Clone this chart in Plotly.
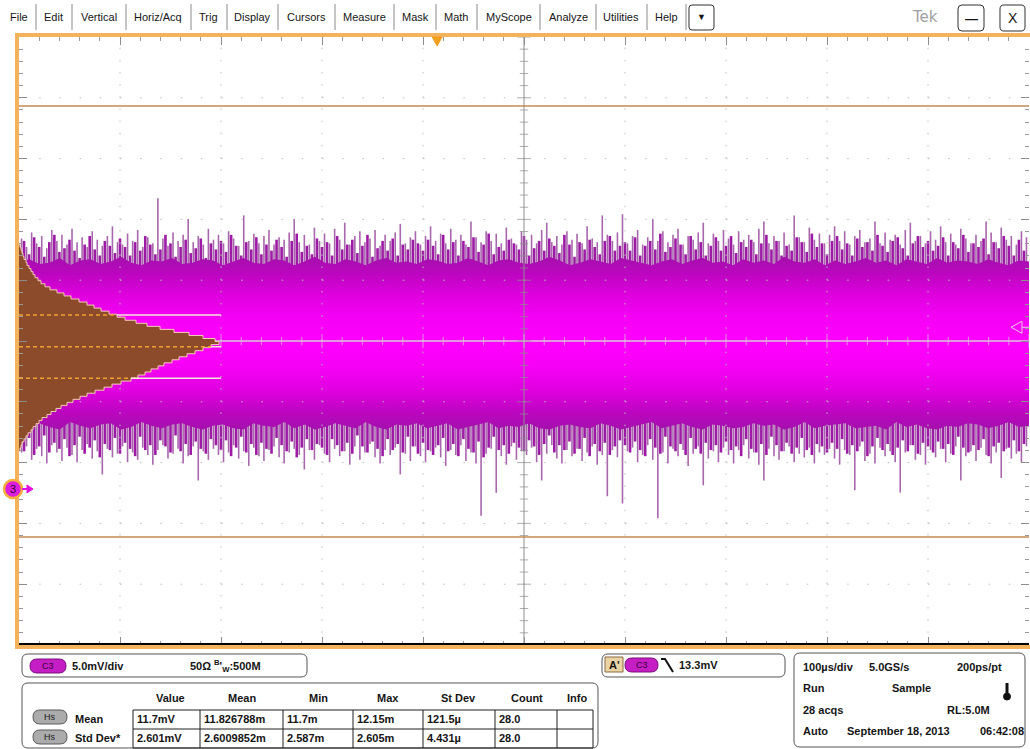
import numpy as np
import plotly.graph_objects as go

W, H = 1030, 749
def px(x): return x / W
def py(y): return 1 - y / H

# ---------------- data ----------------
# waveform: tallest strokes, 200 columns over 10 divisions (mV)
spike_hi = [
    20.6, 19.9, 21.1, 20.2, 20.8, 19.8, 21.3, 20.4, 20.9, 20.1, 21.4, 20.3, 20.7, 19.9, 21.2, 20.5, 20.0, 20.8, 21.6, 20.3,
    20.1, 21.0, 20.4, 21.3, 19.9, 20.7, 20.2, 23.9, 20.6, 20.0, 21.1, 20.4, 20.9, 22.2, 20.3, 20.8, 20.1, 21.4, 20.5, 20.9,
    20.2, 21.2, 20.6, 20.0, 22.5, 20.4, 21.0, 20.2, 20.8, 21.3, 20.1, 20.7, 20.5, 21.1, 22.2, 20.3, 20.9, 20.1, 21.5, 20.4,
    21.0, 20.2, 21.4, 20.5, 21.9, 20.1, 20.8, 21.2, 20.3, 20.6, 21.3, 20.0, 20.9, 20.4, 21.1, 21.8, 20.2, 20.7, 21.2, 20.1,
    20.8, 21.6, 20.4, 21.0, 20.2, 21.4, 20.5, 20.9, 20.1, 22.0, 20.7, 20.3, 21.2, 20.4, 21.0, 20.2, 21.5, 20.6, 20.1, 21.2,
    20.5, 20.9, 20.2, 21.3, 21.9, 20.3, 20.8, 20.1, 21.2, 20.5, 21.0, 20.2, 21.6, 20.6, 20.3, 22.5, 20.9, 20.4, 21.1, 22.6,
    20.2, 20.8, 21.3, 20.1, 20.7, 22.2, 20.4, 21.2, 20.3, 20.9, 21.4, 20.1, 20.8, 20.5, 21.1, 21.9, 20.2, 21.0, 20.4, 21.3,
    20.6, 20.1, 21.2, 20.5, 20.9, 20.3, 21.4, 22.0, 20.2, 20.8, 20.4, 21.1, 20.1, 22.5, 20.7, 20.3, 21.5, 20.5, 21.0, 20.2,
    20.9, 21.6, 20.4, 21.2, 20.1, 20.8, 21.3, 20.3, 20.6, 22.0, 20.2, 21.1, 20.5, 20.9, 20.1, 21.3, 21.9, 20.4, 20.8, 20.2,
    21.2, 20.5, 21.6, 20.3, 21.0, 20.1, 21.4, 20.6, 20.2, 20.9, 20.4, 22.0, 21.1, 20.3, 21.5, 20.5, 20.8, 20.1, 21.2, 20.7,
]
spike_lo = [
    3.0, 3.5, 2.4, 3.3, 2.7, 2.1, 3.6, 3.0, 2.3, 3.4, 2.8, 2.2, 3.2, 3.7, 2.5, 3.1, 1.2, 3.3, 2.6, 2.9,
    3.5, 2.2, 3.0, 2.4, 3.4, 2.8, 2.0, 3.2, 3.6, 2.5, 2.9, 3.3, 2.1, 2.7, 3.5, 0.7, 3.1, 2.4, 3.3, 2.8,
    2.2, 3.0, 3.6, 2.5, 3.1, 1.9, 3.4, 2.7, 2.3, 3.2, 3.5, 2.6, 2.1, 3.0, 3.3, 2.8, 1.6, 3.2, 2.4, 3.6,
    2.9, 2.2, 3.3, 2.7, 3.1, 2.0, 3.5, 2.4, 3.0, 3.7, 2.6, 2.1, 3.2, 2.8, 3.4, 1.2, 2.9, 2.3, 3.5, 2.7,
    2.2, 3.1, 3.4, 2.6, 1.9, 3.2, 2.8, 3.6, 2.3, 3.0, 2.1, -2.2, 2.9, 3.3, -0.3, 2.7, 2.0, 3.5, 2.4, 3.1,
    2.8, 3.4, 2.2, 0.7, 2.9, 3.6, 2.5, 2.1, 3.2, 2.7, 3.3, 2.3, 3.0, 3.5, 2.0, 2.8, -0.6, 3.2, 2.6, -1.2,
    3.1, 3.4, 2.2, 2.8, 3.6, 2.4, -2.4, 3.0, 2.1, 3.3, 2.7, 3.2, 1.9, 2.9, 3.5, 0.3, 2.5, 3.1, 2.2, 3.4,
    2.8, 2.1, 3.2, 3.6, 2.5, 3.0, 2.0, 0.7, 3.3, 2.7, 2.4, 3.1, 3.5, 2.2, 2.9, 2.6, 3.4, 2.1, 3.0, 2.8,
    3.3, 2.5, 2.0, 3.2, 2.8, -0.1, 3.5, 2.3, 2.9, 2.1, 3.4, 2.7, 3.1, 2.2, -0.3, 3.0, 3.6, 2.4, 2.8, 2.0,
    3.2, 2.6, 3.3, 2.2, 2.9, 3.5, 0.7, 2.7, 3.1, 2.3, 3.4, 2.8, 2.1, 3.0, 0.9, 3.3, 2.5, 2.9, 2.2, 3.5,
]
# dense fringe strokes, interleaved between the columns above (mV)
fringe_hi = [
    19.8, 20.4, 19.3, 20.7, 19.9, 19.1, 20.3, 20.9, 19.5, 19.8, 20.5, 19.6, 19.0, 20.1, 20.8, 19.7, 19.2, 20.4, 20.0, 19.4,
    20.6, 19.9, 19.2, 20.3, 19.6, 20.8, 20.1, 19.3, 19.7, 20.9, 20.2, 19.1, 19.9, 20.5, 19.4, 19.8, 20.6, 19.0, 20.2, 19.7,
    20.4, 19.5, 20.9, 20.0, 19.2, 20.3, 19.7, 20.7, 19.3, 20.1, 19.6, 20.5, 19.9, 19.1, 20.4, 21.0, 19.5, 20.0, 19.3, 20.6,
    19.9, 20.3, 19.2, 20.8, 19.7, 20.1, 20.5, 19.4, 20.0, 20.9, 19.1, 19.8, 20.4, 19.6, 20.6, 19.2, 20.1, 19.7, 20.5, 20.2,
    19.6, 20.5, 20.0, 19.3, 20.9, 19.7, 20.3, 19.2, 20.4, 19.9, 20.7, 19.5, 20.1, 21.0, 19.3, 19.9, 19.6, 20.5, 20.2, 19.7,
    20.8, 19.2, 19.8, 20.4, 19.6, 20.6, 20.0, 19.4, 20.9, 20.1, 19.1, 20.3, 19.7, 20.5, 19.9, 19.3, 20.4, 20.8, 19.6, 20.0,
    20.3, 19.6, 20.7, 19.2, 20.0, 20.4, 19.7, 21.0, 19.5, 19.9, 20.6, 20.1, 19.3, 20.8, 19.7, 20.3, 19.2, 20.0, 20.7, 19.6,
    20.0, 20.8, 19.4, 20.3, 19.9, 20.5, 19.3, 20.2, 20.9, 19.7, 20.4, 19.2, 20.0, 19.6, 20.7, 20.3, 19.5, 21.0, 19.9, 20.2,
    19.3, 20.4, 20.8, 19.7, 20.2, 19.2, 20.6, 19.9, 20.3, 19.6, 20.9, 20.0, 19.5, 20.4, 20.7, 19.8, 19.2, 20.2, 20.8, 19.9,
    20.4, 19.6, 20.0, 20.7, 19.2, 20.3, 19.8, 20.9, 19.5, 20.2, 19.9, 20.6, 19.3, 20.3, 19.8, 20.8, 20.0, 19.2, 20.5, 19.6,
]
fringe_lo = [
    3.7, 3.1, 4.2, 2.8, 3.5, 4.4, 3.0, 3.8, 3.3, 4.1, 2.7, 3.6, 4.3, 2.9, 3.4, 4.0, 2.6, 3.7, 3.2, 4.2,
    2.9, 3.8, 3.3, 2.7, 4.3, 3.2, 3.6, 2.8, 4.0, 3.5, 3.0, 4.4, 3.1, 3.7, 2.8, 3.9, 3.3, 2.9, 4.1, 3.6,
    3.2, 4.0, 2.7, 3.4, 4.3, 3.0, 3.7, 2.8, 3.8, 3.3, 2.9, 4.2, 3.6, 3.1, 3.9, 2.6, 3.4, 4.1, 3.2, 3.7,
    3.4, 2.8, 4.1, 3.6, 3.1, 3.8, 2.9, 4.4, 3.5, 3.0, 3.9, 3.3, 2.7, 4.1, 3.2, 3.7, 3.0, 4.3, 3.5, 2.9,
    3.8, 3.2, 2.8, 3.6, 4.2, 3.1, 3.7, 2.7, 4.1, 3.3, 3.0, 3.9, 2.6, 3.4, 4.3, 3.2, 3.6, 2.9, 3.8, 3.4,
    3.1, 4.0, 3.5, 2.8, 3.7, 4.4, 3.0, 3.6, 3.2, 3.9, 2.9, 3.3, 4.2, 2.7, 3.7, 3.1, 3.8, 2.8, 3.5, 4.0,
    3.6, 3.0, 3.9, 3.2, 2.7, 4.1, 3.4, 2.9, 4.3, 3.5, 3.1, 3.7, 2.8, 4.2, 3.3, 2.9, 3.8, 3.2, 3.6, 3.0,
    3.9, 3.2, 3.5, 2.7, 4.1, 3.3, 3.0, 3.7, 2.8, 4.3, 3.6, 3.1, 3.8, 2.9, 3.4, 4.2, 3.2, 2.8, 3.7, 3.5,
    3.0, 3.8, 3.3, 4.1, 2.9, 3.6, 3.1, 3.9, 2.7, 3.5, 4.2, 3.2, 3.7, 2.8, 3.4, 4.0, 3.1, 3.6, 2.9, 3.8,
    3.5, 3.0, 3.9, 3.3, 3.7, 2.8, 4.3, 3.4, 3.0, 3.6, 3.2, 4.1, 2.7, 3.5, 3.8, 3.1, 3.4, 4.0, 3.1, 3.7,
]
# dense body edges (100 points across the record), mV
body_hi = [
    18.7, 18.9, 18.5, 18.6, 19.0, 18.4, 18.8, 18.9, 18.5, 18.7,
    19.1, 18.6, 18.4, 18.8, 18.7, 19.0, 18.5, 18.6, 18.9, 18.8,
    18.4, 18.7, 19.0, 18.6, 18.5, 18.9, 18.8, 18.4, 18.7, 19.1,
    18.6, 18.5, 18.9, 18.7, 18.4, 18.8, 19.0, 18.6, 18.7, 18.5,
    18.9, 18.8, 18.5, 18.6, 19.0, 18.7, 18.4, 18.8, 18.9, 18.6,
    18.5, 18.7, 19.1, 18.8, 18.4, 18.6, 18.9, 18.7, 18.5, 19.0,
    18.8, 18.6, 18.4, 18.7, 18.9, 18.5, 18.8, 19.0, 18.6, 18.7,
    18.4, 18.9, 18.6, 18.8, 18.5, 19.1, 18.7, 18.6, 18.9, 18.4,
    18.8, 18.5, 18.7, 19.0, 18.6, 18.8, 18.4, 18.9, 18.7, 18.5,
    19.0, 18.6, 18.8, 18.7, 18.5, 18.9, 18.6, 18.4, 18.8, 18.7,
]
body_lo = [
    5.2, 5.0, 5.4, 5.1, 4.9, 5.5, 5.2, 5.0, 5.3, 5.4,
    4.9, 5.1, 5.5, 5.2, 5.0, 5.3, 5.4, 5.1, 4.9, 5.2,
    5.3, 5.0, 4.9, 5.4, 5.2, 5.1, 5.5, 5.0, 5.3, 4.9,
    5.1, 5.4, 5.2, 5.0, 5.5, 5.1, 4.9, 5.3, 5.2, 5.4,
    5.0, 5.2, 5.4, 4.9, 5.1, 5.3, 5.5, 5.0, 5.2, 5.1,
    5.4, 5.0, 4.9, 5.2, 5.3, 5.1, 5.0, 5.4, 5.2, 4.9,
    5.1, 5.3, 5.5, 5.0, 5.2, 5.4, 5.1, 4.9, 5.3, 5.2,
    5.0, 5.1, 5.4, 5.2, 5.3, 4.9, 5.1, 5.5, 5.0, 5.2,
    5.3, 5.4, 5.0, 5.1, 5.2, 4.9, 5.5, 5.1, 5.3, 5.0,
    4.9, 5.2, 5.1, 5.4, 5.3, 5.0, 5.2, 5.5, 5.1, 5.2,
]
# vertical histogram: bins of 0.25 mV starting at 3.25 mV (centres), hits
hist_start_mv = 3.25
hist_step_mv = 0.25
hist_counts = [
    1, 2, 3, 5, 7, 9, 12, 14, 17, 20, 23, 28, 32, 37, 42, 48, 54, 61, 68, 76,
    85, 93, 102, 112, 119, 126, 132, 139, 145, 153, 160, 168, 176, 184, 192, 200,
    196, 184, 170, 155, 141, 128, 117, 106, 98, 90, 82, 75, 68, 60, 52, 45, 38, 31,
    26, 22, 19, 16, 14, 12, 10, 8, 7, 5, 4, 3, 2, 1,
]
hist_mean_mv = 11.7
hist_std_mv = 2.601
hist_box_mv = [31.5, -3.95]
trig_level_mv = 13.3
trig_pos_us = -86

# scope settings
t_div_us = 100
v_div_mv = 5.0
center_mv = 12.17

menu_items = ["File", "Edit", "Vertical", "Horiz/Acq", "Trig", "Display", "Cursors",
              "Measure", "Mask", "Math", "MyScope", "Analyze", "Utilities", "Help"]
menu_x = [19, 53, 99, 158, 208, 252, 306, 364, 415, 456, 509, 568, 621, 666]
menu_sep = [36, 72, 126, 191, 227, 278, 335, 394, 436, 477, 540, 596, 647, 686]

table_headers = ["Value", "Mean", "Min", "Max", "St Dev", "Count", "Info"]
row_labels = ["Mean", "Std Dev*"]
row_mean = ["11.7mV", "11.826788m", "11.7m", "12.15m", "121.5µ", "28.0", ""]
row_std = ["2.601mV", "2.6009852m", "2.587m", "2.605m", "4.431µ", "28.0", ""]

# ---------------- geometry ----------------
X0, X1 = 19, 1029      # graticule pixel extent
Y0, Y1 = 37, 645
xr = [-5 * t_div_us, 5 * t_div_us]
yr = [center_mv - 5 * v_div_mv, center_mv + 5 * v_div_mv]

fig = go.Figure()

def strokes(lo_list, hi_list, offset):
    n = len(hi_list)
    t = xr[0] + (np.arange(n) + offset) * (xr[1] - xr[0]) / n
    xs, ys = [], []
    for tt, lo, hi in zip(t, lo_list, hi_list):
        xs += [tt, tt, None]
        ys += [lo, hi, None]
    return xs, ys

sx, sy = strokes(spike_lo, spike_hi, 0.5)
fig.add_trace(go.Scatter(x=sx, y=sy, mode="lines", line=dict(color="#A866AC", width=1.6),
                         hoverinfo="skip", showlegend=False))
fx, fy = strokes(fringe_lo, fringe_hi, 0.0)
fig.add_trace(go.Scatter(x=fx, y=fy, mode="lines", line=dict(color="#9C1AA4", width=2.6),
                         hoverinfo="skip", showlegend=False))

# dense body with vertical gradient
tb = np.linspace(xr[0], xr[1], len(body_hi))
bx = list(tb) + list(tb[::-1])
by = list(body_hi) + list(body_lo[::-1])
fig.add_trace(go.Scatter(
    x=bx, y=by, mode="lines", fill="toself",
    fillgradient=dict(type="vertical", colorscale=[
        [0.0, "#A410AC"], [0.1, "#BC06C0"], [0.22, "#DE00DE"], [0.36, "#F600F6"],
        [0.5, "#FF00FF"], [0.64, "#F600F6"], [0.78, "#DE00DE"], [0.9, "#BC06C0"], [1.0, "#A410AC"]]),
    line=dict(width=0, color="rgba(0,0,0,0)"), hoverinfo="skip", showlegend=False))

# dotted graticule
gx, gy = [], []
for k in range(-4, 5):
    if k == 0:
        continue
    gx += [k * t_div_us, k * t_div_us, None]
    gy += [yr[0], yr[1], None]
fig.add_trace(go.Scatter(x=gx, y=gy, mode="lines", line=dict(color="#BDBDBD", width=1, dash="1.5px,10.66px"),
                         hoverinfo="skip", showlegend=False))
hx, hy = [], []
for k in range(-4, 5):
    if k == 0:
        continue
    hx += [xr[0], xr[1], None]
    hy += [center_mv + k * v_div_mv] * 2 + [None]
fig.add_trace(go.Scatter(x=hx, y=hy, mode="lines", line=dict(color="#BDBDBD", width=1, dash="1.5px,18.7px"),
                         hoverinfo="skip", showlegend=False))

# centre cross with ticks
fig.add_trace(go.Scatter(x=[0, 0], y=yr, mode="lines", line=dict(color="#8E8E8E", width=1),
                         hoverinfo="skip", showlegend=False))
fig.add_trace(go.Scatter(x=xr, y=[center_mv, center_mv], mode="lines", line=dict(color="#D8C4D8", width=1.3),
                         hoverinfo="skip", showlegend=False))
vt = [center_mv + k * v_div_mv / 5 for k in range(-25, 26)]
fig.add_trace(go.Scatter(x=[0] * len(vt), y=vt, mode="markers",
                         marker=dict(symbol="line-ew", size=[10 if k % 5 == 0 else 6 for k in range(-25, 26)],
                                     line=dict(color="#8E8E8E", width=1)),
                         hoverinfo="skip", showlegend=False))
ht = [k * t_div_us / 5 for k in range(-25, 26)]
fig.add_trace(go.Scatter(x=ht, y=[center_mv] * len(ht), mode="markers",
                         marker=dict(symbol="line-ns", size=[10 if k % 5 == 0 else 6 for k in range(-25, 26)],
                                     line=dict(color="#D8C4D8", width=1)),
                         hoverinfo="skip", showlegend=False))

# histogram box limits
for v in hist_box_mv:
    fig.add_trace(go.Scatter(x=xr, y=[v, v], mode="lines", line=dict(color="#C48A55", width=1.5),
                             hoverinfo="skip", showlegend=False))

# histogram (on overlaid axis, grows from left edge)
centres = hist_start_mv + hist_step_mv * np.arange(len(hist_counts))
hxs, hys = [0], [centres[0] - hist_step_mv / 2]
for c, cnt in zip(centres, hist_counts):
    hxs += [cnt, cnt]
    hys += [c - hist_step_mv / 2, c + hist_step_mv / 2]
hxs += [0]
hys += [centres[-1] + hist_step_mv / 2]
fig.add_trace(go.Scatter(x=hxs, y=hys, xaxis="x2", yaxis="y", mode="lines", fill="toself",
                         fillcolor="#8C4B2A", line=dict(color="#F2CDB4", width=1),
                         hoverinfo="skip", showlegend=False))

shapes = []
hmax = max(hist_counts) + 2
def edge_at(v):
    i = int(round((v - hist_start_mv) / hist_step_mv))
    i = min(max(i, 0), len(hist_counts) - 1)
    return hist_counts[i]
for v in [hist_mean_mv + hist_std_mv, hist_mean_mv, hist_mean_mv - hist_std_mv]:
    e = edge_at(v)
    shapes.append(dict(type="line", xref="x2", yref="y", x0=e, x1=hmax, y0=v, y1=v,
                       line=dict(color="#F6E6D8", width=1.5), layer="above"))
    shapes.append(dict(type="line", xref="x2", yref="y", x0=0, x1=e, y0=v, y1=v,
                       line=dict(color="#F0A030", width=1.5, dash="4px,3px"), layer="above"))

# bottom black line of graticule
shapes.append(dict(type="line", xref="paper", yref="paper", x0=px(X0), x1=px(X1), y0=py(644), y1=py(644),
                   line=dict(color="#000000", width=2), layer="above"))
# orange border
shapes.append(dict(type="rect", xref="paper", yref="paper", x0=px(17), x1=px(1034), y0=py(647), y1=py(35),
                   line=dict(color="#F2B35C", width=4), fillcolor="rgba(0,0,0,0)", layer="above"))

# trigger position marker (top)
tx = X0 + (trig_pos_us - xr[0]) / (xr[1] - xr[0]) * (X1 - X0)
shapes.append(dict(type="path", xref="paper", yref="paper",
                   path=f"M {px(tx-5):.5f},{py(37):.5f} L {px(tx+5):.5f},{py(37):.5f} L {px(tx):.5f},{py(46):.5f} Z",
                   fillcolor="#F2A020", line=dict(color="#F2A020", width=1), layer="above"))
# trigger level marker (right)
ty = Y0 + (yr[1] - trig_level_mv) / (yr[1] - yr[0]) * (Y1 - Y0)
shapes.append(dict(type="path", xref="paper", yref="paper",
                   path=f"M {px(1022):.5f},{py(ty-6):.5f} L {px(1011):.5f},{py(ty):.5f} L {px(1022):.5f},{py(ty+6):.5f} Z",
                   fillcolor="rgba(0,0,0,0)", line=dict(color="#F4C4F4", width=1), layer="above"))
shapes.append(dict(type="line", xref="paper", yref="paper", x0=px(1022), x1=px(1029), y0=py(ty), y1=py(ty),
                   line=dict(color="#F4C4F4", width=1), layer="above"))

# ground marker
gyp = Y0 + (yr[1] - 0) / (yr[1] - yr[0]) * (Y1 - Y0)
shapes.append(dict(type="circle", xref="paper", yref="paper", x0=px(4), x1=px(22), y0=py(gyp + 9), y1=py(gyp - 9),
                   fillcolor="#DC1EDC", line=dict(color="#F7AE3A", width=2.5), layer="above"))
shapes.append(dict(type="line", xref="paper", yref="paper", x0=px(22), x1=px(28), y0=py(gyp), y1=py(gyp),
                   line=dict(color="#E010E0", width=2), layer="above"))
shapes.append(dict(type="path", xref="paper", yref="paper",
                   path=f"M {px(27):.5f},{py(gyp-4):.5f} L {px(33):.5f},{py(gyp):.5f} L {px(27):.5f},{py(gyp+4):.5f} Z",
                   fillcolor="#E010E0", line=dict(color="#E010E0", width=1), layer="above"))

def rrect(x0, y0, x1, y1, r, fill="white", line="#606060", lw=1):
    p = (f"M {px(x0+r):.5f},{py(y0):.5f} L {px(x1-r):.5f},{py(y0):.5f} "
         f"Q {px(x1):.5f},{py(y0):.5f} {px(x1):.5f},{py(y0+r):.5f} L {px(x1):.5f},{py(y1-r):.5f} "
         f"Q {px(x1):.5f},{py(y1):.5f} {px(x1-r):.5f},{py(y1):.5f} L {px(x0+r):.5f},{py(y1):.5f} "
         f"Q {px(x0):.5f},{py(y1):.5f} {px(x0):.5f},{py(y1-r):.5f} L {px(x0):.5f},{py(y0+r):.5f} "
         f"Q {px(x0):.5f},{py(y0):.5f} {px(x0+r):.5f},{py(y0):.5f} Z")
    return dict(type="path", xref="paper", yref="paper", path=p, fillcolor=fill,
                line=dict(color=line, width=lw), layer="above")

def hline(x0, x1, y, color="#202020", w=1):
    return dict(type="line", xref="paper", yref="paper", x0=px(x0), x1=px(x1), y0=py(y), y1=py(y),
                line=dict(color=color, width=w), layer="above")
def vline(x, y0, y1, color="#202020", w=1):
    return dict(type="line", xref="paper", yref="paper", x0=px(x), x1=px(x), y0=py(y0), y1=py(y1),
                line=dict(color=color, width=w), layer="above")

# menu bar
for x in menu_sep:
    shapes.append(vline(x, 4, 30, "#8A8A8A", 1))
shapes.append(rrect(689, 5, 714, 30, 3, line="#303030"))
shapes.append(rrect(958, 5, 984, 31, 4, line="#303030"))
shapes.append(rrect(1000, 5, 1025, 31, 4, line="#303030"))

# bottom panels
shapes.append(rrect(22, 654, 307, 677, 6, line="#555555"))
shapes.append(rrect(22, 683, 598, 748, 6, line="#555555"))
shapes.append(rrect(602, 654, 785, 677, 6, line="#555555"))
shapes.append(rrect(794, 653, 1025, 747, 6, line="#555555"))
shapes.append(rrect(30, 659, 66, 673, 7, fill="#C41EC4", line="#7A107A"))
shapes.append(rrect(625, 658, 658, 672, 7, fill="#C41EC4", line="#7A107A"))
shapes.append(dict(type="rect", xref="paper", yref="paper", x0=px(605), x1=px(623), y0=py(672), y1=py(657),
                   fillcolor="#EAD3A4", line=dict(color="#8A6A40", width=1), layer="above"))
shapes.append(dict(type="path", xref="paper", yref="paper",
                   path=f"M {px(661):.5f},{py(659):.5f} L {px(665):.5f},{py(659):.5f} L {px(673):.5f},{py(672):.5f}",
                   line=dict(color="#101010", width=2), layer="above"))
for yy in (710, 730):
    shapes.append(rrect(33, yy, 67, yy + 14, 7, fill="#ABABAB", line="#5A5A5A"))
# table grid
col_x = [133, 200, 283, 353, 423, 495, 557, 593]
for yy in (710, 729, 748):
    shapes.append(hline(col_x[0], col_x[-1], yy))
for x in col_x:
    shapes.append(vline(x, 710, 748))
# thermometer
shapes.append(vline(1007, 683, 695, "#101010", 3))
shapes.append(dict(type="circle", xref="paper", yref="paper", x0=px(1003.5), x1=px(1010.5), y0=py(700), y1=py(693),
                   fillcolor="#101010", line=dict(color="#101010", width=1), layer="above"))

ann = []
def txt(x, y, s, size=11, bold=False, color="#151515", anchor="left", family="Liberation Sans"):
    ann.append(dict(x=px(x), y=py(y), xref="paper", yref="paper", text=f"<b>{s}</b>" if bold else s,
                    showarrow=False, xanchor=anchor, yanchor="middle",
                    font=dict(size=size, color=color, family=family)))

for s, x in zip(menu_items, menu_x):
    txt(x, 17, s, 11, anchor="center")
txt(701.5, 17, "▼", 9, anchor="center")
txt(925, 17, "Tek", 15, color="#A0A0A0", anchor="center", family="DejaVu Sans")
txt(971, 19, "—", 13, bold=True, anchor="center")
txt(1012.5, 18, "X", 14, anchor="center")

txt(48, 666, "C3", 9, color="#3A003A", anchor="center")
txt(70, 666, "5.0mV/div", 11, bold=True)
txt(188, 666, "50Ω", 11, bold=True)
txt(212, 666, "<sup>B</sup>'<sub>W</sub>:500M", 11, bold=True)

for s, x in zip(table_headers, [170, 242, 318, 388, 458, 527, 577]):
    txt(x, 698, s, 11, bold=True, anchor="center")
for s, yy in zip(row_labels, (719, 738)):
    txt(73, yy, s, 11, bold=True)
for row, yy in zip([row_mean, row_std], (719, 738)):
    for s, x in zip(row, col_x[:-1]):
        if s:
            txt(x + 2, yy, s, 11, bold=True)
for yy in (717, 737):
    txt(50, yy, "Hs", 9, color="#202020", anchor="center")

txt(614, 665, "A'", 11, bold=True, anchor="center")
txt(641.5, 665, "C3", 9, color="#3A003A", anchor="center")
txt(677, 665, "13.3mV", 11, bold=True)

txt(801, 667, "100µs/div", 11, bold=True)
txt(867, 667, "5.0GS/s", 11, bold=True)
txt(955, 667, "200ps/pt", 11, bold=True)
txt(801, 688, "Run", 11, bold=True)
txt(890, 688, "Sample", 11, bold=True)
txt(801, 710, "28 acqs", 11, bold=True)
txt(945, 710, "RL:5.0M", 11, bold=True)
txt(801, 731, "Auto", 11, bold=True)
txt(845, 731, "September 18, 2013", 11, bold=True)
txt(978, 731, "06:42:08", 11, bold=True)

txt(13, gyp, "3", 11, color="#3A0040", anchor="center")

axis_common = dict(showgrid=False, zeroline=False, showticklabels=False, ticks="inside",
                   tickcolor="#8C8C8C", ticklen=8, mirror="ticks", showline=False)
fig.update_layout(
    width=W, height=H, margin=dict(l=0, r=0, t=0, b=0),
    paper_bgcolor="white", plot_bgcolor="white",
    font=dict(family="Liberation Sans"),
    xaxis=dict(domain=[px(X0), px(X1)], range=xr, tick0=0, dtick=t_div_us,
               minor=dict(ticks="inside", ticklen=4, dtick=t_div_us / 5, tickcolor="#9A9A9A", showgrid=False),
               **axis_common),
    yaxis=dict(domain=[py(Y1), py(Y0)], range=yr, tick0=center_mv, dtick=v_div_mv,
               minor=dict(ticks="inside", ticklen=4, tick0=center_mv, dtick=v_div_mv / 5, tickcolor="#9A9A9A",
                          showgrid=False),
               **axis_common),
    xaxis2=dict(overlaying="x", anchor="y", range=[0, X1 - X0], visible=False),
    shapes=shapes, annotations=ann, showlegend=False,
)

fig.write_html("out.html", config={"displayModeBar": False},
               post_script="document.body.style.margin='0';document.body.style.overflow='hidden';")
